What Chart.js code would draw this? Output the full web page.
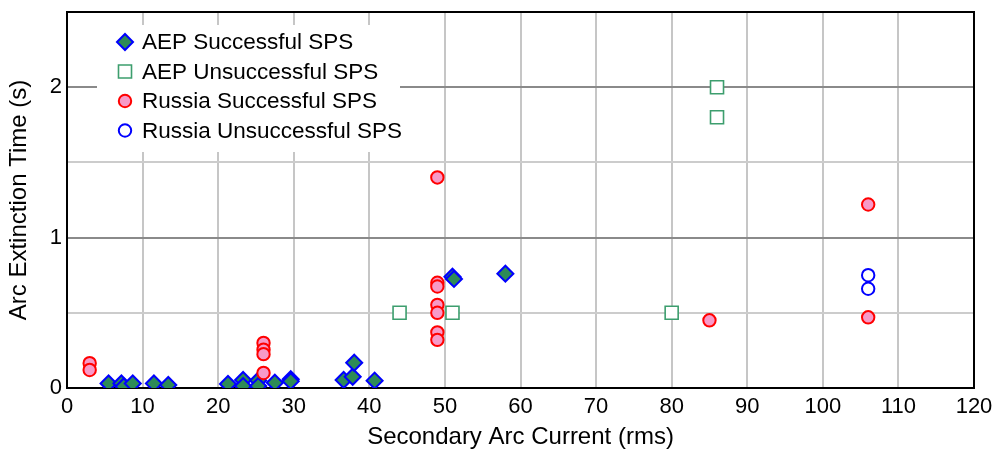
<!DOCTYPE html>
<html>
<head>
<meta charset="utf-8">
<script src="https://cdn.jsdelivr.net/npm/chart.js@4/dist/chart.umd.min.js"></script>
<style>
  html, body { margin: 0; padding: 0; background: #fff; }
  #wrap { width: 997px; height: 453px; }
</style>
</head>
<body>
<div id="wrap"><canvas id="c" width="997" height="453"></canvas></div>
<script>
// ---- data ----
const seriesNames = ['AEP Successful SPS', 'AEP Unsuccessful SPS', 'Russia Successful SPS', 'Russia Unsuccessful SPS'];

const aepSuccessX = [5.5, 7.2, 7.5, 8.7, 11.5, 13.4, 21.3, 23.3, 23.3, 25.3, 25.3, 27.5, 29.6, 29.6, 36.6, 37.8, 38.0, 40.7, 51.0, 51.2, 58.0];
const aepSuccessY = [0.03, 0.03, 0.01, 0.03, 0.03, 0.02, 0.027, 0.053, 0.013, 0.05, 0.013, 0.035, 0.058, 0.045, 0.053, 0.075, 0.168, 0.049, 0.74, 0.725, 0.76];

const aepFailX = [44, 51, 80, 86, 86];
const aepFailY = [0.5, 0.5, 0.5, 2.0, 1.8];

const rusSuccessX = [3, 3, 26, 26, 26, 26, 49, 49, 49, 49, 49, 49, 49, 85, 106, 106];
const rusSuccessY = [0.165, 0.12, 0.30, 0.255, 0.225, 0.10, 1.40, 0.70, 0.675, 0.553, 0.50, 0.37, 0.32, 0.45, 1.22, 0.47];

const rusFailX = [106, 106];
const rusFailY = [0.75, 0.66];

const xTicks = [0, 10, 20, 30, 40, 50, 60, 70, 80, 90, 100, 110, 120];
const yTickLabels = [0, 1, 2];

const xTitle = 'Secondary Arc Current (rms)';
const yTitle = 'Arc Extinction Time (s)';

function pts(xs, ys) { return xs.map((x, i) => ({ x: x, y: ys[i] })); }

const FONT = '"Liberation Sans", Arial, Helvetica, sans-serif';

const datasets = [
  { label: seriesNames[0], data: pts(aepSuccessX, aepSuccessY), pointStyle: 'rectRot', pointRadius: 8,
    backgroundColor: '#2e8b57', borderColor: '#0000ff', pointBorderWidth: 2, order: 2 },
  { label: seriesNames[1], data: pts(aepFailX, aepFailY), pointStyle: 'rect', pointRadius: 9.2,
    backgroundColor: '#ffffff', borderColor: '#3d9e6e', pointBorderWidth: 1.6, order: 2 },
  { label: seriesNames[2], data: pts(rusSuccessX, rusSuccessY), pointStyle: 'circle', pointRadius: 6.2,
    backgroundColor: '#f79ac8', borderColor: '#ff0000', pointBorderWidth: 2, order: 1 },
  { label: seriesNames[3], data: pts(rusFailX, rusFailY), pointStyle: 'circle', pointRadius: 6.2,
    backgroundColor: 'rgba(0,0,0,0)', borderColor: '#0000ff', pointBorderWidth: 2, order: 1 }
];
datasets.forEach(d => { d.showLine = false; d.pointHoverRadius = d.pointRadius; });

const framePlugin = {
  id: 'frameAndLegend',
  beforeDatasetsDraw(chart) {
    const ctx = chart.ctx;
    const a = chart.chartArea;
    ctx.save();
    // inset legend box
    ctx.fillStyle = '#ffffff';
    ctx.fillRect(97, 25, 303, 127);
    const rowY = [42, 71.5, 101, 130.5];
    chart.data.datasets.forEach((d, i) => {
      ctx.save();
      ctx.fillStyle = d.backgroundColor;
      ctx.strokeStyle = d.borderColor;
      ctx.lineWidth = d.pointBorderWidth;
      Chart.helpers.drawPoint(ctx, {
        pointStyle: d.pointStyle, radius: d.pointRadius, rotation: 0, borderWidth: d.pointBorderWidth
      }, 125, rowY[i]);
      ctx.restore();
      ctx.fillStyle = '#000';
      ctx.font = '22.5px ' + FONT;
      ctx.textAlign = 'left';
      ctx.textBaseline = 'middle';
      ctx.fillText(d.label, 142, rowY[i] + 1);
    });
    // frame
    ctx.strokeStyle = '#000';
    ctx.lineWidth = 2;
    ctx.strokeRect(a.left, a.top, a.right - a.left, a.bottom - a.top);
    ctx.restore();
  }
};

new Chart(document.getElementById('c'), {
  type: 'scatter',
  data: { datasets: datasets },
  options: {
    responsive: false,
    animation: false,
    layout: { padding: { top: 12, right: 23, left: 0, bottom: 0 } },
    plugins: { legend: { display: false }, tooltip: { enabled: false } },
    scales: {
      x: {
        type: 'linear', min: 0, max: 120,
        afterFit: s => { s.height = 65; s.paddingLeft = 0; s.paddingRight = 0; },
        afterBuildTicks: s => { s.ticks = xTicks.map(v => ({ value: v })); },
        ticks: { font: { family: FONT, size: 22 }, color: '#000', padding: 6, maxRotation: 0, autoSkip: false },
        grid: { color: '#c6c6c6', lineWidth: 2, drawTicks: false },
        border: { display: false },
        title: { display: true, text: xTitle, color: '#000', font: { family: FONT, size: 24 }, padding: { top: 0, bottom: 1 } }
      },
      y: {
        type: 'linear', min: 0, max: 2.5,
        afterFit: s => { s.width = 67; s.paddingTop = 0; s.paddingBottom = 0; },
        ticks: {
          stepSize: 0.5,
          font: { family: FONT, size: 22 }, color: '#000', padding: 5, autoSkip: false,
          callback: v => (yTickLabels.includes(v) ? String(v) : '')
        },
        grid: {
          color: c => (Number.isInteger(c.tick.value) ? '#8a8a8a' : '#cccccc'),
          lineWidth: 2, drawTicks: false
        },
        border: { display: false },
        title: { display: true, text: yTitle, color: '#000', font: { family: FONT, size: 24 }, padding: { top: 5, bottom: 0 } }
      }
    }
  },
  plugins: [framePlugin]
});
</script>
</body>
</html>
